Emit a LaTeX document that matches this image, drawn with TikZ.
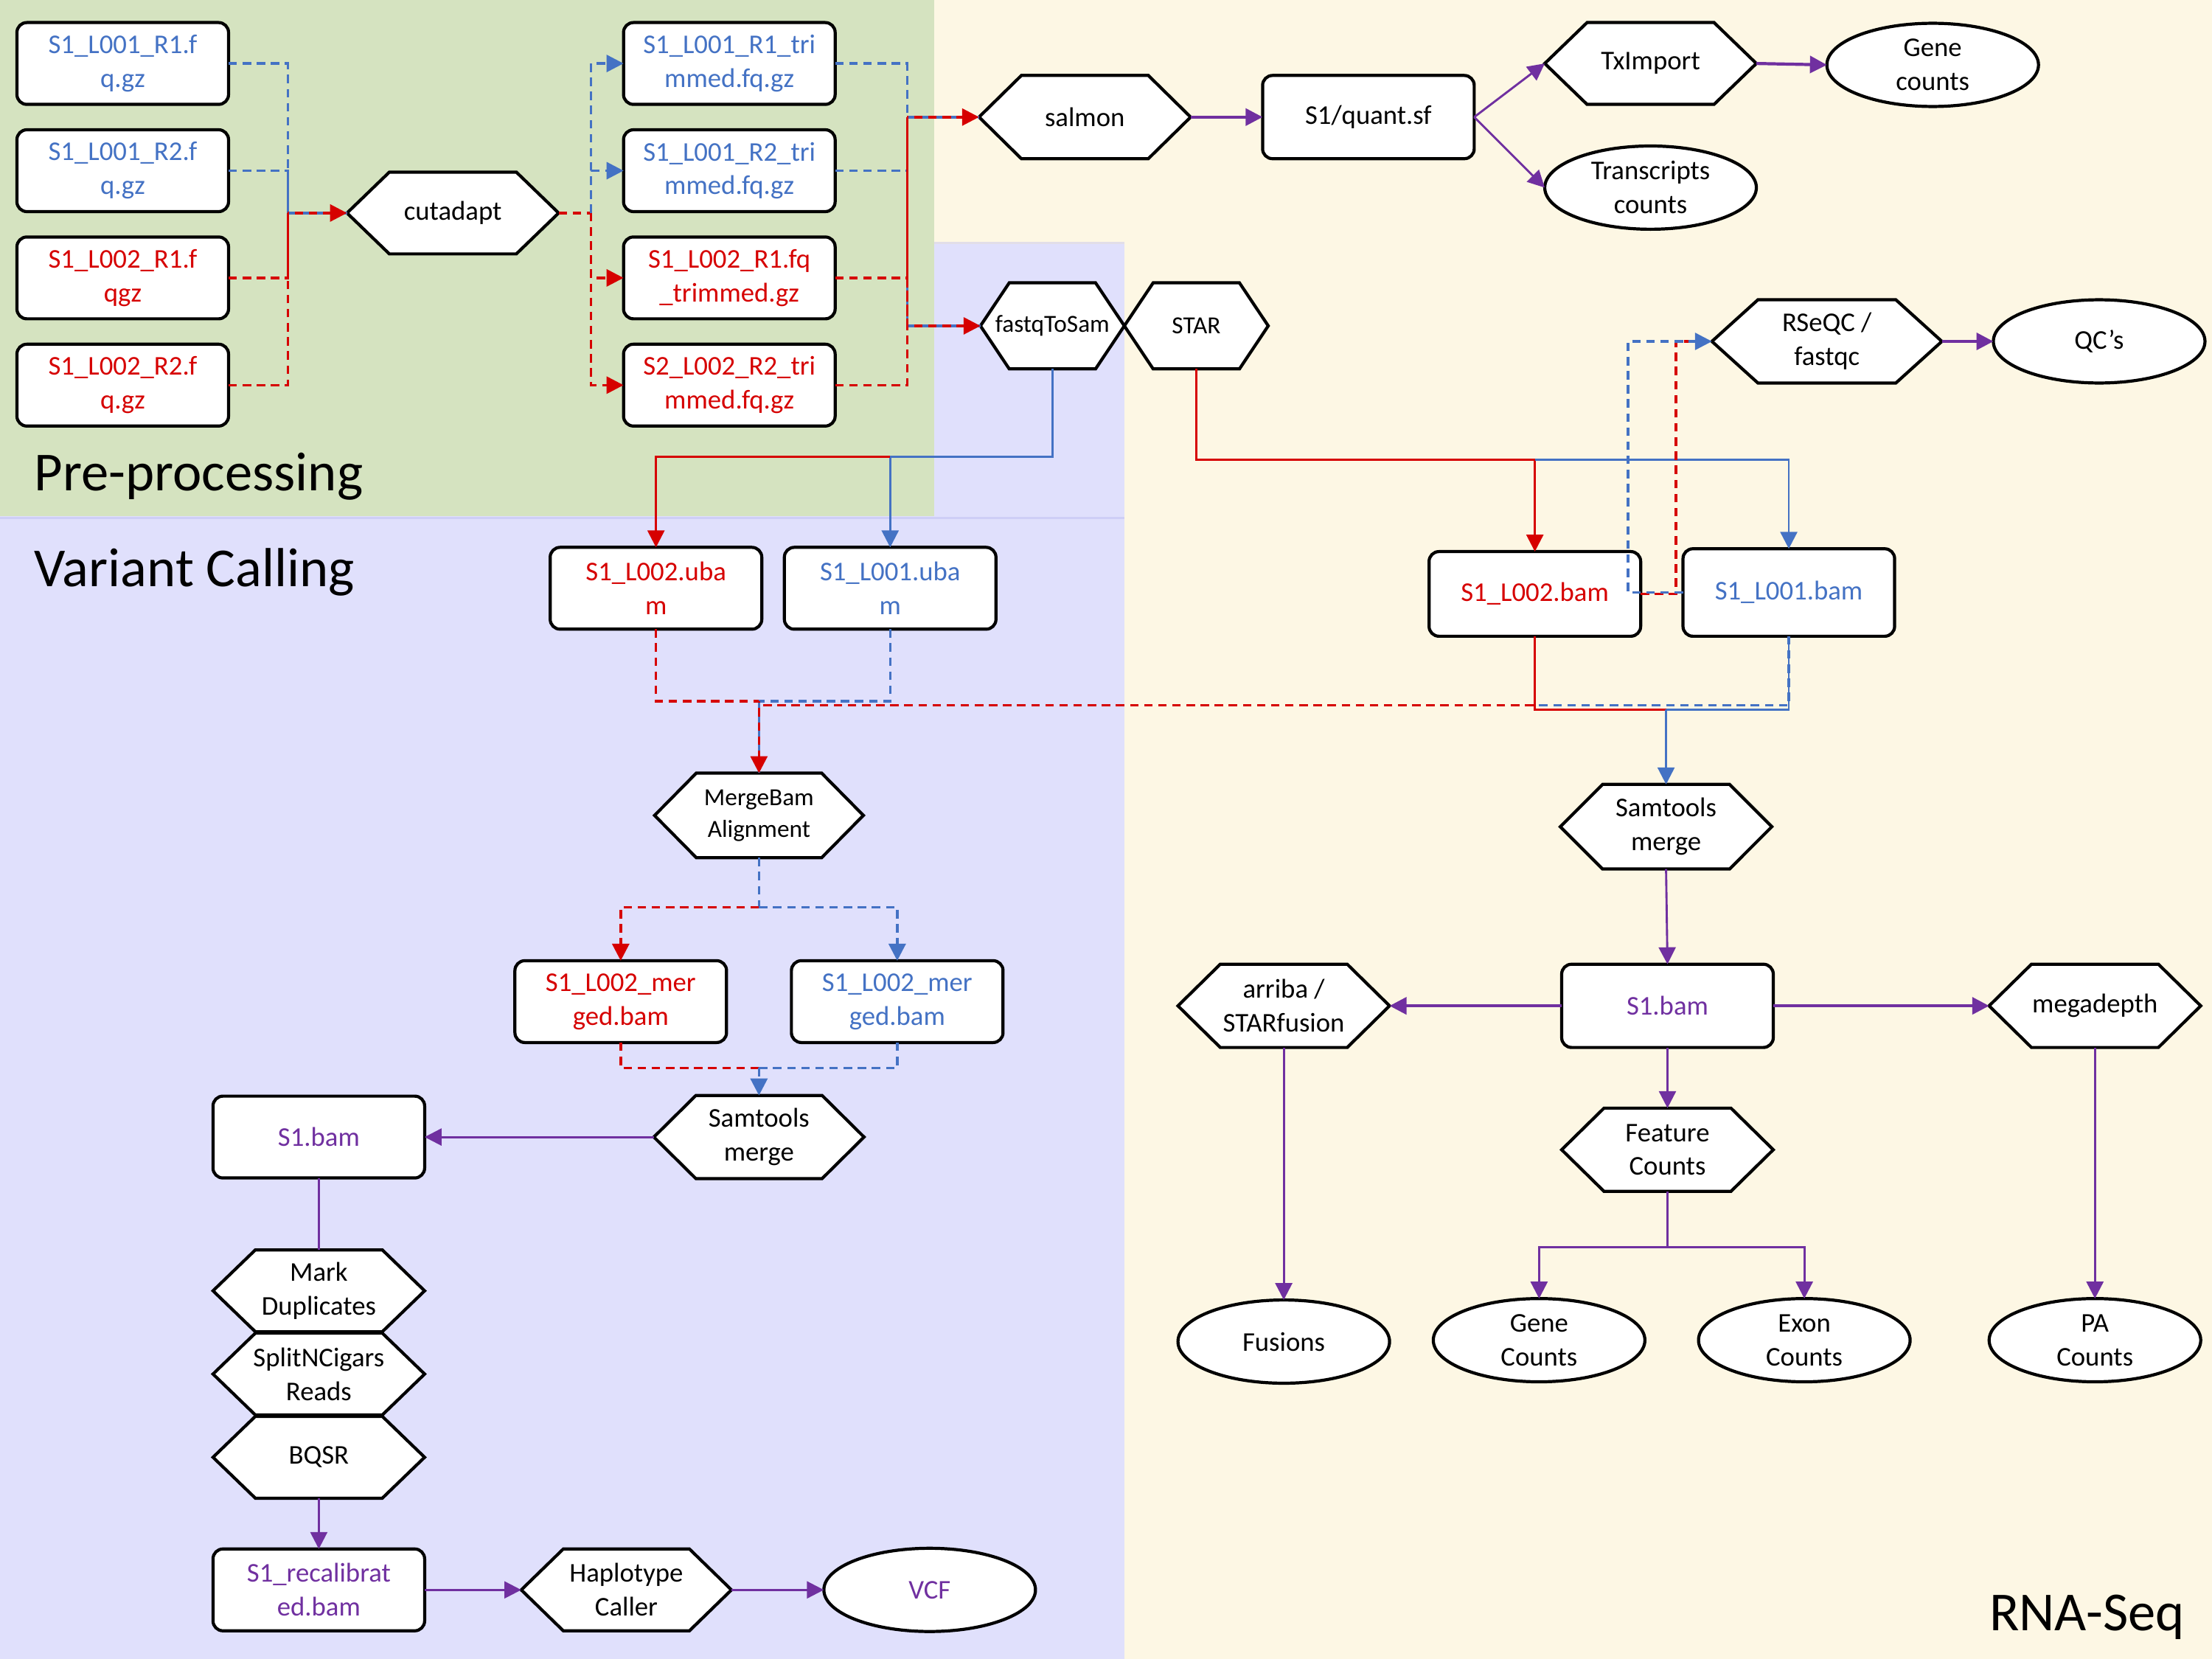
\documentclass[tikz,border=0pt]{standalone}
\usepackage{fontspec}
\setmainfont{Carlito}
\usetikzlibrary{arrows.meta,shapes.geometric}

\definecolor{myred}{RGB}{214,0,0}
\definecolor{myblue}{RGB}{68,114,196}
\definecolor{mypurple}{RGB}{112,48,160}
\definecolor{bggreen}{RGB}{213,227,192}
\definecolor{bgcream}{RGB}{253,247,228}
\definecolor{bglav}{RGB}{224,224,252}
\definecolor{lavedge}{RGB}{206,206,246}
\definecolor{grayedge}{RGB}{226,222,232}

\newcommand{\nodefont}{\fontsize{9.6}{12}\selectfont}
\newcommand{\smallnodefont}{\fontsize{8.7}{11.2}\selectfont}

\tikzset{
  filebox/.style={draw=black, line width=1.1pt, fill=white, rounded corners=3.5pt,
    minimum width=75pt, minimum height=29pt, inner sep=0pt, outer sep=0pt,
    align=center, font=\nodefont},
  ovalnode/.style={ellipse, draw=black, line width=1.1pt, fill=white,
    minimum width=75pt, minimum height=29.5pt, inner sep=0pt, outer sep=0pt,
    align=center, font=\nodefont},
  hexfill/.style={draw=black, line width=1.1pt, fill=white, line join=miter},
  hexlab/.style={inner sep=0pt, outer sep=0pt, align=center},
  headed/.style={-{Triangle[length=6pt,width=6pt]}},
  rdash/.style={draw=myred, line width=0.9pt, dash pattern=on 3pt off 2pt},
  bdash/.style={draw=myblue, line width=0.9pt, dash pattern=on 3pt off 2pt},
  shifted/.style={dash phase=2.5pt},
  rline/.style={draw=myred, line width=0.75pt},
  bline/.style={draw=myblue, line width=0.75pt},
  pline/.style={draw=mypurple, line width=0.75pt},
  pthick/.style={draw=mypurple, line width=1.1pt},
  section/.style={font=\fontsize{19.5}{23}\selectfont, inner sep=0pt},
}

% hexagon: [font]{name}{x}{y}{width}{height}{text}
\newcommand{\hexnode}[7][\nodefont]{%
  \path[hexfill] ({#3-#5/2},#4) -- ({#3-0.3*#5},{#4-#6/2}) -- ({#3+0.3*#5},{#4-#6/2})
    -- ({#3+#5/2},#4) -- ({#3+0.3*#5},{#4+#6/2}) -- ({#3-0.3*#5},{#4+#6/2}) -- cycle;
  \node[hexlab, font=#1, minimum width=#5*0.5pt, minimum height=#6*0.5pt] (#2) at (#3,#4) {#7};
}

\begin{document}
\begin{tikzpicture}[x=0.5pt, y=-0.5pt]
\useasboundingbox (0,0) rectangle (1568,1176);

% --- background areas ---
\fill[bgcream] (0,0) rectangle (1568,1176);
\fill[bggreen] (0,0) rectangle (662,366);
\fill[bglav] (0,366) rectangle (797,1176);
\fill[bglav] (662,172) rectangle (797,366);
\draw[grayedge, line width=0.8pt] (662,172) -- (797,172);
\draw[lavedge, line width=0.8pt] (0,367) -- (797,367);

% --- section titles ---
\node[section, anchor=base west] (tpre) at (24,348) {Pre-processing};
\node[section, anchor=base west] (tvar) at (24,416) {Variant Calling};
\node[section, anchor=base east] (trna) at (1549,1156) {RNA-Seq};

% --- pre-processing ---
\node[filebox, text=myblue] (i1) at (87,45)  {S1\_L001\_R1.f\\q.gz};
\node[filebox, text=myblue] (i2) at (87,121) {S1\_L001\_R2.f\\q.gz};
\node[filebox, text=myred]  (i3) at (87,197) {S1\_L002\_R1.f\\qgz};
\node[filebox, text=myred]  (i4) at (87,273) {S1\_L002\_R2.f\\q.gz};
\hexnode{cut}{321}{151}{150}{58}{cutadapt}
\node[filebox, text=myblue] (t1) at (517,45)  {S1\_L001\_R1\_tri\\mmed.fq.gz};
\node[filebox, text=myblue] (t2) at (517,121) {S1\_L001\_R2\_tri\\mmed.fq.gz};
\node[filebox, text=myred]  (t3) at (517,197) {S1\_L002\_R1.fq\\\_trimmed.gz};
\node[filebox, text=myred]  (t4) at (517,273) {S2\_L002\_R2\_tri\\mmed.fq.gz};

% --- salmon branch ---
\hexnode{salmon}{769}{83}{150}{59}{salmon}
\node[filebox, minimum height=29.5pt] (quant) at (970,83) {S1/quant.sf};
\hexnode{tx}{1170}{45}{150}{58}{TxImport}
\node[ovalnode] (gc) at (1370,46) {Gene\\counts};
\node[ovalnode] (tc) at (1170,133) {Transcripts\\counts};

% --- aligners ---
\hexnode[\smallnodefont]{fts}{746}{231}{102}{61}{fastqToSam}
\hexnode[\smallnodefont]{star}{848}{231}{102}{61}{STAR}
\hexnode{rseqc}{1295}{242}{163}{59}{RSeQC /\\fastqc}
\node[ovalnode] (qc) at (1488,242) {QC’s};

\node[filebox, text=myred]  (ur) at (465,417) {S1\_L002.uba\\m};
\node[filebox, text=myblue] (ub) at (631,417) {S1\_L001.uba\\m};
\node[filebox, text=myred, minimum height=30pt]  (br) at (1088,421) {S1\_L002.bam};
\node[filebox, text=myblue, minimum height=31pt] (bb) at (1268,420) {S1\_L001.bam};

% --- variant calling ---
\hexnode[\smallnodefont]{mb}{538}{578}{148}{60}{MergeBam\\Alignment}
\node[filebox, text=myred]  (mr)  at (440,710) {S1\_L002\_mer\\ged.bam};
\node[filebox, text=myblue] (mbl) at (636,710) {S1\_L002\_mer\\ged.bam};
\hexnode{smv}{538}{806}{149}{59}{Samtools\\merge}
\node[filebox, text=mypurple] (s1v) at (226,806) {S1.bam};
\hexnode{md}{226}{915}{150}{58}{Mark\\Duplicates}
\hexnode{snc}{226}{974}{150}{58}{SplitNCigars\\Reads}
\hexnode{bqsr}{226}{1033}{150}{58}{BQSR}
\node[filebox, text=mypurple] (rec) at (226,1127) {S1\_recalibrat\\ed.bam};
\hexnode{hc}{444}{1127}{149}{58}{Haplotype\\Caller}
\node[ovalnode, text=mypurple] (vcf) at (659,1127) {VCF};

% --- RNA-Seq quantification ---
\hexnode{smr}{1181}{586}{150}{60}{Samtools\\merge}
\node[filebox, text=mypurple, minimum height=29.5pt] (s1r) at (1182,713) {S1.bam};
\hexnode{arr}{910}{713}{150}{59}{arriba /\\STARfusion}
\hexnode{mega}{1485}{713}{150}{59}{megadepth}
\hexnode{fc}{1182}{815}{150}{59}{Feature\\Counts}
\node[ovalnode] (fus) at (910,951)  {Fusions};
\node[ovalnode] (gcn) at (1091,950) {Gene\\Counts};
\node[ovalnode] (exn) at (1279,950) {Exon\\Counts};
\node[ovalnode] (pa)  at (1485,950) {PA\\Counts};

% ================= connectors =================
% reads into cutadapt
\coordinate (jin) at (204,151);
\draw[bdash] (i1.east) -| (jin);
\draw[bdash] (i2.east) -| (jin);
\draw[rdash] (i3.east) -| (jin);
\draw[rdash] (i4.east) -| (jin);
\draw[bdash] (jin) -- (cut.west);
\draw[rdash, shifted, headed] (jin) -- (cut.west);

% cutadapt to trimmed reads
\coordinate (jout) at (419,151);
\draw[rdash] (cut.east) -- (jout);
\draw[bdash, headed] (jout) |- (t1.west);
\draw[bdash, headed] (jout) |- (t2.west);
\draw[rdash, headed] (jout) |- (t3.west);
\draw[rdash, headed] (jout) |- (t4.west);

% trimmed reads to salmon and fastqToSam
\coordinate (js) at (643,83);
\coordinate (jf) at (643,231);
\draw[bdash] (t1.east) -| (js);
\draw[bdash] (t1.east) -| (jf);
\draw[bdash] (t2.east) -| (js);
\draw[bdash] (t2.east) -| (jf);
\draw[rdash] (t3.east) -| (js);
\draw[rdash] (t3.east) -| (jf);
\draw[rdash] (t4.east) -| (js);
\draw[rdash] (t4.east) -| (jf);
\draw[bdash] (js) -- (salmon.west);
\draw[rdash, shifted, headed] (js) -- (salmon.west);
\draw[bdash] (jf) -- (fts.west);
\draw[rdash, shifted, headed] (jf) -- (fts.west);

% fastqToSam to unaligned bams
\coordinate (fj) at (631,324);
\draw[bline] (fts.south) |- (fj);
\draw[bline, headed] (fj) -- (ub.north);
\draw[rline, headed] (fj) -| (ur.north);

% STAR to aligned bams
\coordinate (sj) at (1088,326);
\draw[rline, headed] (star.south) |- (sj) -- (br.north);
\draw[bline, headed] (sj) -| (bb.north);

% bams to MergeBamAlignment
\coordinate (mu) at (538,497);
\coordinate (mj) at (538,500);
\draw[rdash] (ur.south) |- (mu);
\draw[bdash] (ub.south) |- (mu);
\draw[bdash] (bb.south) |- (mj);
\draw[rdash] (br.south) |- (mj);
\draw[bdash] (mu) -- (mb.north);
\draw[rdash, shifted, headed] (mu) -- (mb.north);

% aligned bams to samtools merge
\coordinate (sm) at (1181,503);
\draw[rline] (br.south) |- (sm);
\draw[bline] (bb.south) |- (sm);
\draw[bline, headed] (sm) -- (smr.north);

% aligned bams to QC
\coordinate (qr) at (1188,242);
\coordinate (qb) at (1154,242);
\draw[rdash] (br.east) -| (qr) -- (rseqc.west);
\draw[bdash, headed] (bb.west) -| (qb) -- (rseqc.west);

% MergeBamAlignment outputs
\coordinate (mm) at (538,643);
\draw[bdash] (mb.south) -- (mm);
\draw[rdash, headed] (mm) -| (mr.north);
\draw[bdash, headed] (mm) -| (mbl.north);

% merged bams to samtools merge
\coordinate (mv) at (538,757);
\draw[rdash] (mr.south) |- (mv);
\draw[bdash] (mbl.south) |- (mv);
\draw[bdash, headed] (mv) -- (smv.north);

% variant calling chain
\draw[pline, headed] (smv.west) -- (s1v.east);
\draw[pline] (s1v.south) -- (md.north);
\draw[pline, headed] (bqsr.south) -- (rec.north);
\draw[pline, headed] (rec.east) -- (hc.west);
\draw[pline, headed] (hc.east) -- (vcf.west);

% salmon chain
\draw[pthick, headed] (salmon.east) -- (quant.west);
\draw[pline, headed] (quant.east) -- (tx.west);
\draw[pline, headed] (quant.east) -- (tc.west);
\draw[pthick, headed] (tx.east) -- (gc.west);
\draw[pthick, headed] (rseqc.east) -- (qc.west);

% RNA-Seq downstream
\draw[pline, headed] (smr.south) -- (s1r.north);
\draw[pthick, headed] (s1r.west) -- (arr.east);
\draw[pthick, headed] (s1r.east) -- (mega.west);
\draw[pline, headed] (s1r.south) -- (fc.north);
\coordinate (fcj) at (1182,884);
\draw[pline] (fc.south) -- (fcj);
\draw[pline, headed] (fcj) -| (gcn.north);
\draw[pline, headed] (fcj) -| (exn.north);
\draw[pline, headed] (arr.south) -- (fus.north);
\draw[pline, headed] (mega.south) -- (pa.north);
\end{tikzpicture}
\end{document}
